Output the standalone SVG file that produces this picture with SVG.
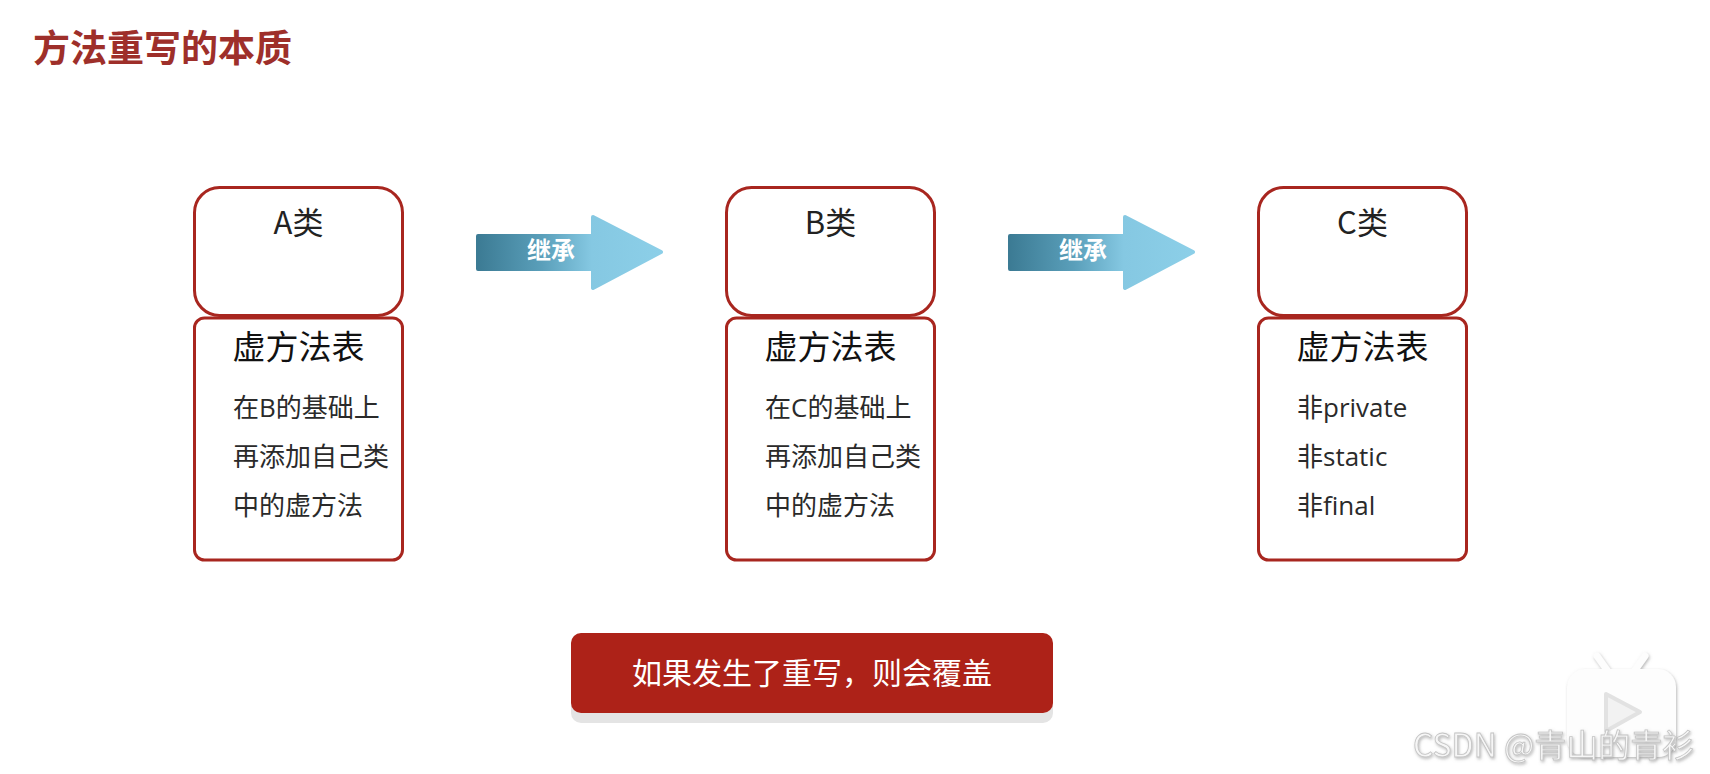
<svg xmlns="http://www.w3.org/2000/svg" width="1710" height="774" viewBox="0 0 1710 774">
<defs>
<style>
.t{font-family:"Noto Sans CJK SC","Noto Sans",sans-serif;}
.box{fill:#fff;stroke:#a8261f;stroke-width:3;}
.head{font-size:31px;fill:#222;text-anchor:middle;}
.tbl{font-size:33px;fill:#111;text-anchor:middle;}
.item{font-family:"Open Sans","Noto Sans CJK SC",sans-serif;font-size:26px;fill:#2a2a2a;}
.arrowTxt{font-size:24px;font-weight:bold;fill:#fff;text-anchor:middle;}
</style>
<linearGradient id="ag" x1="0" y1="0" x2="1" y2="0">
<stop offset="0" stop-color="#3c7b94"/>
<stop offset="0.35" stop-color="#5a9fba"/>
<stop offset="0.62" stop-color="#85c8e2"/>
<stop offset="1" stop-color="#8ccfe8"/>
</linearGradient>
<filter id="ws" x="-20%" y="-20%" width="140%" height="140%">
<feDropShadow dx="1" dy="1.5" stdDeviation="1.5" flood-color="#888" flood-opacity="0.6"/>
</filter>
<path id="arr" d="M0 236 L115 236 L115 217 L183 252 L115 288 L115 269 L0 269 Z"/>
</defs>
<rect width="1710" height="774" fill="#fff"/>

<g id="title">
<text class="t" x="33" y="62" font-size="37" font-weight="bold" fill="#9e2f2a">方法重写的本质</text>
</g>

<g id="nodeA">
<rect class="box" x="194.5" y="187.5" width="208" height="128" rx="25"/>
<rect class="box" x="194.5" y="318" width="208" height="242" rx="10"/>
<text class="t head" x="298.5" y="234">A类</text>
<text class="t tbl" x="298.5" y="359">虚方法表</text>
<text class="item" x="233" y="417">在B的基础上</text>
<text class="item" x="233" y="466">再添加自己类</text>
<text class="item" x="233" y="515">中的虚方法</text>
</g>

<g id="nodeB">
<rect class="box" x="726.5" y="187.5" width="208" height="128" rx="25"/>
<rect class="box" x="726.5" y="318" width="208" height="242" rx="10"/>
<text class="t head" x="830.5" y="234">B类</text>
<text class="t tbl" x="830.5" y="359">虚方法表</text>
<text class="item" x="765" y="417">在C的基础上</text>
<text class="item" x="765" y="466">再添加自己类</text>
<text class="item" x="765" y="515">中的虚方法</text>
</g>

<g id="nodeC">
<rect class="box" x="1258.5" y="187.5" width="208" height="128" rx="25"/>
<rect class="box" x="1258.5" y="318" width="208" height="242" rx="10"/>
<text class="t head" x="1362.5" y="234">C类</text>
<text class="t tbl" x="1362.5" y="359">虚方法表</text>
<text class="item" x="1297" y="417">非private</text>
<text class="item" x="1297" y="466">非static</text>
<text class="item" x="1297" y="515">非final</text>
</g>

<g id="connectors">
<g transform="translate(478,0)">
<use href="#arr" fill="url(#ag)" stroke="url(#ag)" stroke-width="4" stroke-linejoin="round"/>
<text class="t arrowTxt" x="73" y="259">继承</text>
</g>
<g transform="translate(1010,0)">
<use href="#arr" fill="url(#ag)" stroke="url(#ag)" stroke-width="4" stroke-linejoin="round"/>
<text class="t arrowTxt" x="73" y="259">继承</text>
</g>
</g>

<g id="note">
<rect x="571" y="642" width="482" height="81" rx="10" fill="#e4e4e4"/>
<rect x="571" y="633" width="482" height="80" rx="10" fill="#ad2218"/>
<text class="t" x="812" y="684" font-size="30" fill="#fff" text-anchor="middle">如果发生了重写，则会覆盖</text>
</g>

<g id="watermark">
<g filter="url(#ws)" fill="#fdfdfd">
<path d="M1597 656 L1607 670" stroke="#fdfdfd" stroke-width="7" stroke-linecap="round"/>
<path d="M1645 656 L1635 670" stroke="#fdfdfd" stroke-width="7" stroke-linecap="round"/>
<rect x="1567" y="669" width="109" height="88" rx="18"/>
</g>
<path d="M1606 694 L1640 712 L1606 731 Z" fill="#f2f2f2" stroke="#e2e2e2" stroke-width="4" stroke-linejoin="round"/>
<text class="t" x="1413" y="757" font-family="'Liberation Sans','Noto Sans CJK SC',sans-serif" font-size="32" fill="#f6f6f6" stroke="#c4c4c4" stroke-width="0.8" filter="url(#ws)">CSDN @青山的青衫</text>
</g>
</svg>
